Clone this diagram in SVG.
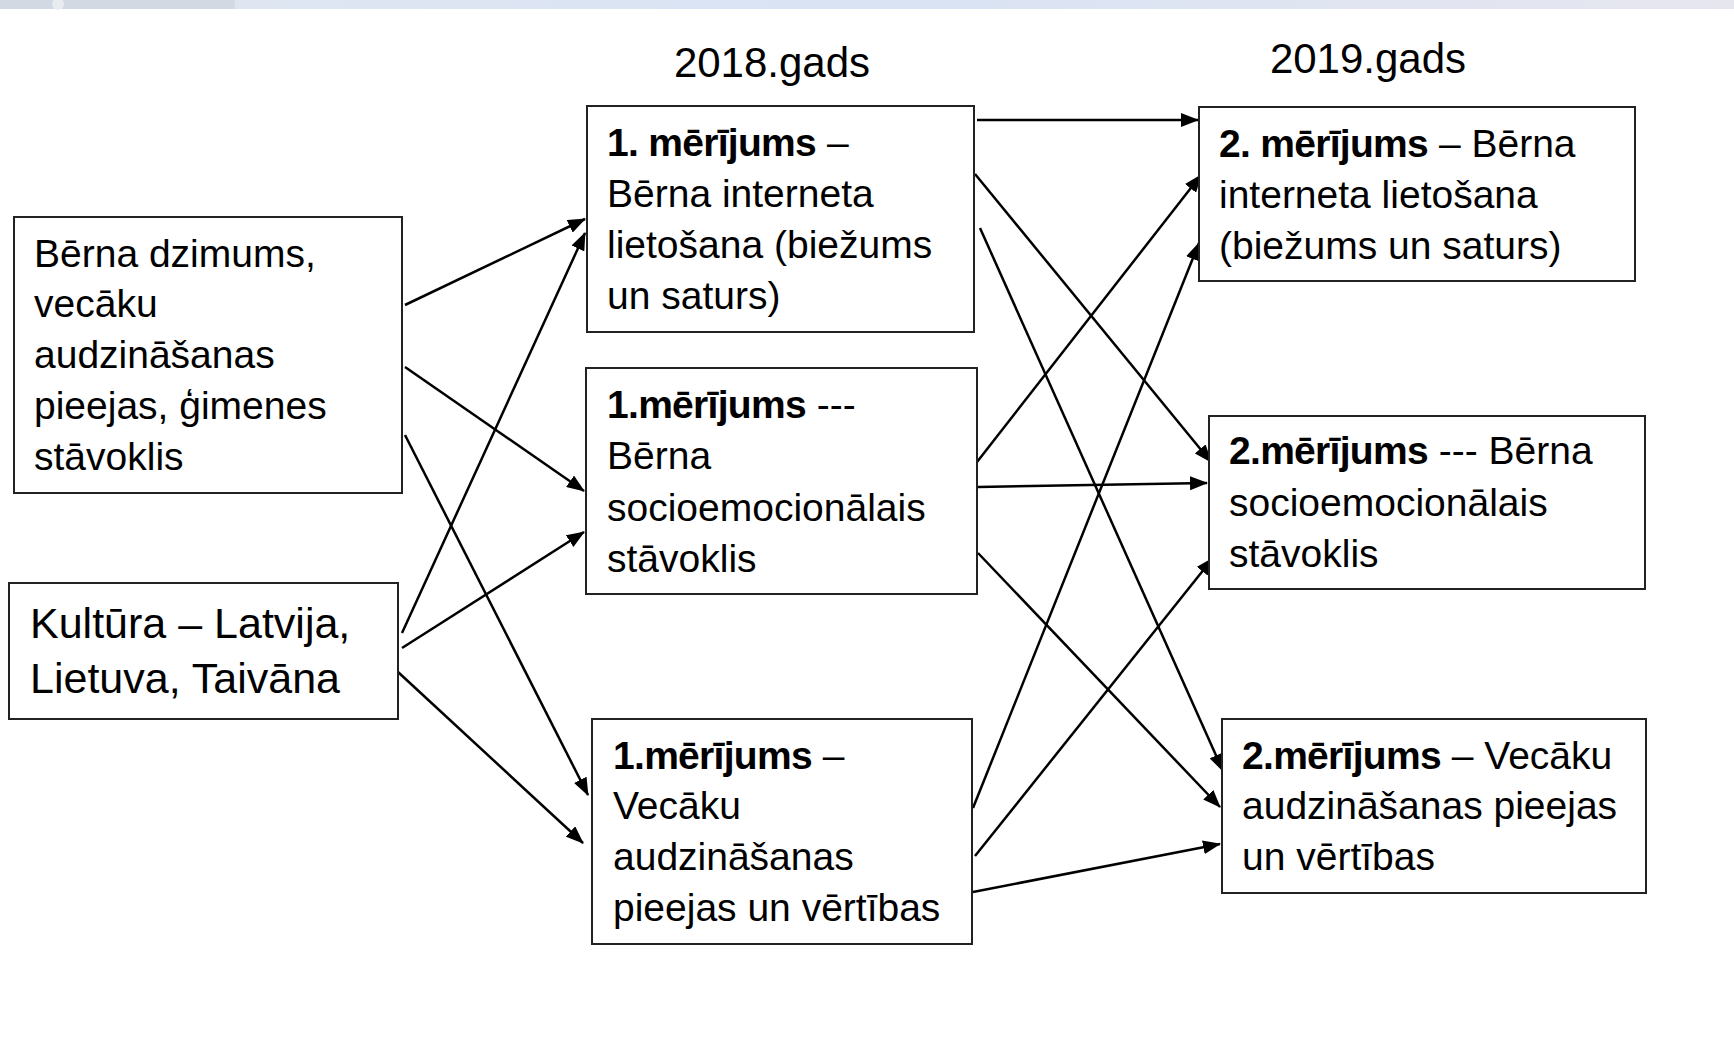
<svg xmlns="http://www.w3.org/2000/svg" width="1734" height="1047" viewBox="0 0 1734 1047">
<style>
.box{fill:#fff;stroke:#222;stroke-width:2}
.t{font-family:"Liberation Sans",Arial,sans-serif;font-size:39px;fill:#000}
.k{font-size:43px}
.h{font-family:"Liberation Sans",Arial,sans-serif;font-size:42px;fill:#000;text-anchor:middle}
.b{font-weight:bold;letter-spacing:-0.7px}
.c{fill:none;stroke:#000;stroke-width:2.5}
</style>
<defs>
<linearGradient id="bar" x1="0" y1="0" x2="1" y2="0">
<stop offset="0" stop-color="#d3d9e2"/>
<stop offset="0.135" stop-color="#d3d9e2"/>
<stop offset="0.136" stop-color="#dfe6f2"/>
<stop offset="0.5" stop-color="#d9e3f4"/>
<stop offset="1" stop-color="#e6e6ef"/>
</linearGradient>
<marker id="ah" markerUnits="userSpaceOnUse" markerWidth="18" markerHeight="14" refX="17" refY="7" orient="auto">
<path d="M0,0 L18,7 L0,14 z" fill="#000"/>
</marker>
</defs>
<rect width="1734" height="1047" fill="#fff"/>
<rect x="0" y="0" width="1734" height="9" fill="url(#bar)"/>
<ellipse cx="58" cy="4" rx="6" ry="6" fill="#e8ecf1"/>

<text class="h" x="772" y="77">2018.gads</text>
<text class="h" x="1368" y="73">2019.gads</text>

<g id="connectors">
<line class="c" x1="405" y1="305" x2="585" y2="219" marker-end="url(#ah)"/>
<line class="c" x1="405" y1="367" x2="584" y2="491" marker-end="url(#ah)"/>
<line class="c" x1="405" y1="435" x2="588" y2="795" marker-end="url(#ah)"/>
<line class="c" x1="402" y1="633" x2="585" y2="233" marker-end="url(#ah)"/>
<line class="c" x1="402" y1="648" x2="584" y2="532" marker-end="url(#ah)"/>
<line class="c" x1="398" y1="672" x2="583" y2="843" marker-end="url(#ah)"/>
<line class="c" x1="977" y1="120" x2="1198" y2="120" marker-end="url(#ah)"/>
<line class="c" x1="975" y1="174" x2="1211" y2="462" marker-end="url(#ah)"/>
<line class="c" x1="980" y1="228" x2="1223" y2="771" marker-end="url(#ah)"/>
<line class="c" x1="977" y1="462" x2="1201" y2="175" marker-end="url(#ah)"/>
<line class="c" x1="978" y1="487" x2="1207" y2="483" marker-end="url(#ah)"/>
<line class="c" x1="978" y1="553" x2="1220" y2="807" marker-end="url(#ah)"/>
<line class="c" x1="973" y1="808" x2="1199" y2="243" marker-end="url(#ah)"/>
<line class="c" x1="975" y1="856" x2="1213" y2="558" marker-end="url(#ah)"/>
<line class="c" x1="973" y1="892" x2="1220" y2="844" marker-end="url(#ah)"/>
</g>

<g id="node-birth">
<rect class="box" x="14" y="217" width="388" height="276"/>
<text class="t" x="34" y="267">Bērna dzimums,</text>
<text class="t" x="34" y="317">vecāku</text>
<text class="t" x="34" y="368">audzināšanas</text>
<text class="t" x="34" y="419">pieejas, ģimenes</text>
<text class="t" x="34" y="470">stāvoklis</text>
</g>

<g id="node-culture">
<rect class="box" x="9" y="583" width="389" height="136"/>
<text class="t k" x="30" y="638">Kultūra – Latvija,</text>
<text class="t k" x="30" y="693">Lietuva, Taivāna</text>
</g>

<g id="node-m1-internet">
<rect class="box" x="587" y="106" width="387" height="226"/>
<text class="t" x="607" y="156"><tspan class="b">1. mērījums</tspan> –</text>
<text class="t" x="607" y="207">Bērna interneta</text>
<text class="t" x="607" y="258">lietošana (biežums</text>
<text class="t" x="607" y="309">un saturs)</text>
</g>

<g id="node-m1-socio">
<rect class="box" x="586" y="368" width="391" height="226"/>
<text class="t" x="607" y="418"><tspan class="b">1.mērījums</tspan> ---</text>
<text class="t" x="607" y="469">Bērna</text>
<text class="t" x="607" y="521">socioemocionālais</text>
<text class="t" x="607" y="572">stāvoklis</text>
</g>

<g id="node-m1-parent">
<rect class="box" x="592" y="719" width="380" height="225"/>
<text class="t" x="613" y="769"><tspan class="b">1.mērījums</tspan> –</text>
<text class="t" x="613" y="819">Vecāku</text>
<text class="t" x="613" y="870">audzināšanas</text>
<text class="t" x="613" y="921">pieejas un vērtības</text>
</g>

<g id="node-m2-internet">
<rect class="box" x="1199" y="107" width="436" height="174"/>
<text class="t" x="1219" y="157"><tspan class="b">2. mērījums</tspan> – Bērna</text>
<text class="t" x="1219" y="208">interneta lietošana</text>
<text class="t" x="1219" y="259">(biežums un saturs)</text>
</g>

<g id="node-m2-socio">
<rect class="box" x="1209" y="416" width="436" height="173"/>
<text class="t" x="1229" y="464"><tspan class="b">2.mērījums</tspan> --- Bērna</text>
<text class="t" x="1229" y="516">socioemocionālais</text>
<text class="t" x="1229" y="567">stāvoklis</text>
</g>

<g id="node-m2-parent">
<rect class="box" x="1222" y="719" width="424" height="174"/>
<text class="t" x="1242" y="769"><tspan class="b">2.mērījums</tspan> – Vecāku</text>
<text class="t" x="1242" y="819">audzināšanas pieejas</text>
<text class="t" x="1242" y="870">un vērtības</text>
</g>
</svg>
